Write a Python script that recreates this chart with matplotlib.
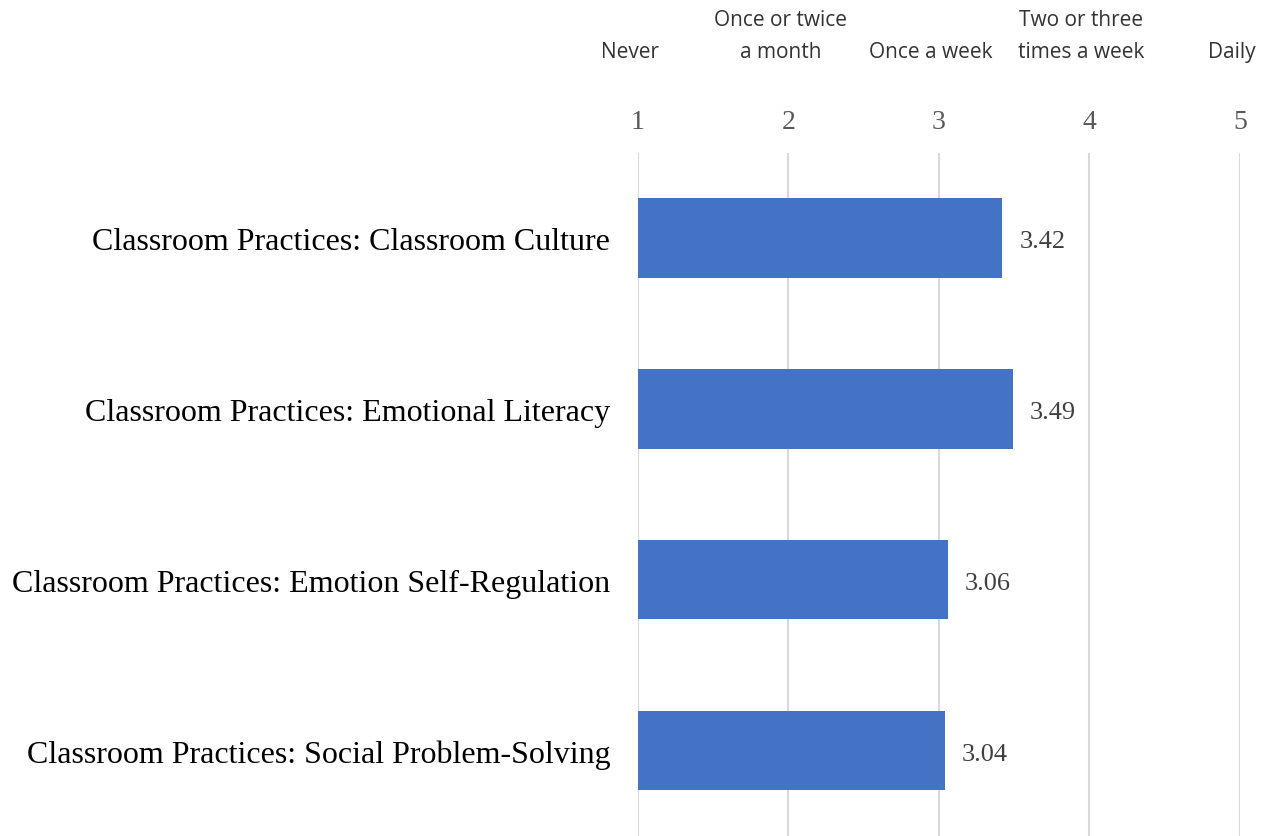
import matplotlib.pyplot as plt
from matplotlib.transforms import blended_transform_factory, offset_copy

categories = [
    "Classroom Practices: Classroom Culture",
    "Classroom Practices: Emotional Literacy",
    "Classroom Practices: Emotion Self-Regulation",
    "Classroom Practices: Social Problem-Solving",
]
values = [3.42, 3.49, 3.06, 3.04]
scale_ticks = [1, 2, 3, 4, 5]
scale_labels = ["Never", "Once or twice\na month", "Once a week",
                "Two or three\ntimes a week", "Daily"]

fig = plt.figure(figsize=(12.81, 8.37), dpi=100)
ax = fig.add_axes([0.498, 0.0, 0.470, 0.8166])

ypos = list(range(len(categories)))
# bars start at the left end of the scale (1)
ax.barh(ypos, [v - 1 for v in values], left=1, height=0.465,
        color="#4472C4", zorder=3)

for y, v in zip(ypos, values):
    ax.text(v, y, f"{v:.2f}",
            transform=offset_copy(ax.transData, fig, x=17, y=-3, units="dots"),
            va="center", ha="left", fontsize=19, color="#404040",
            family="Liberation Serif")

ax.set_xlim(1, 5)
ax.set_ylim(len(categories) - 0.5, -0.5)
ax.set_xticks(scale_ticks)
ax.xaxis.tick_top()
ax.tick_params(axis="x", length=0, pad=13, labelsize=20, labelcolor="#595959")
for lab in ax.get_xticklabels():
    lab.set_family("Liberation Serif")
ax.grid(axis="x", color="#d9d9d9", linewidth=1.5, zorder=0)

ax.set_yticks(ypos)
ax.set_yticklabels(categories, family="Liberation Serif", fontsize=23, color="black")
ax.tick_params(axis="y", length=0, pad=20)

for s in ax.spines.values():
    s.set_visible(False)

trans = blended_transform_factory(ax.transData, fig.transFigure)
for x, lab in zip(scale_ticks, scale_labels):
    ax.text(x, 1 - 63 / 837, lab, transform=offset_copy(trans, fig, x=-8, units="dots"),
            ha="center", va="bottom", fontsize=15, color="#333333",
            family="Open Sans", linespacing=1.7, clip_on=False)

fig.savefig("out.png", dpi=100)
